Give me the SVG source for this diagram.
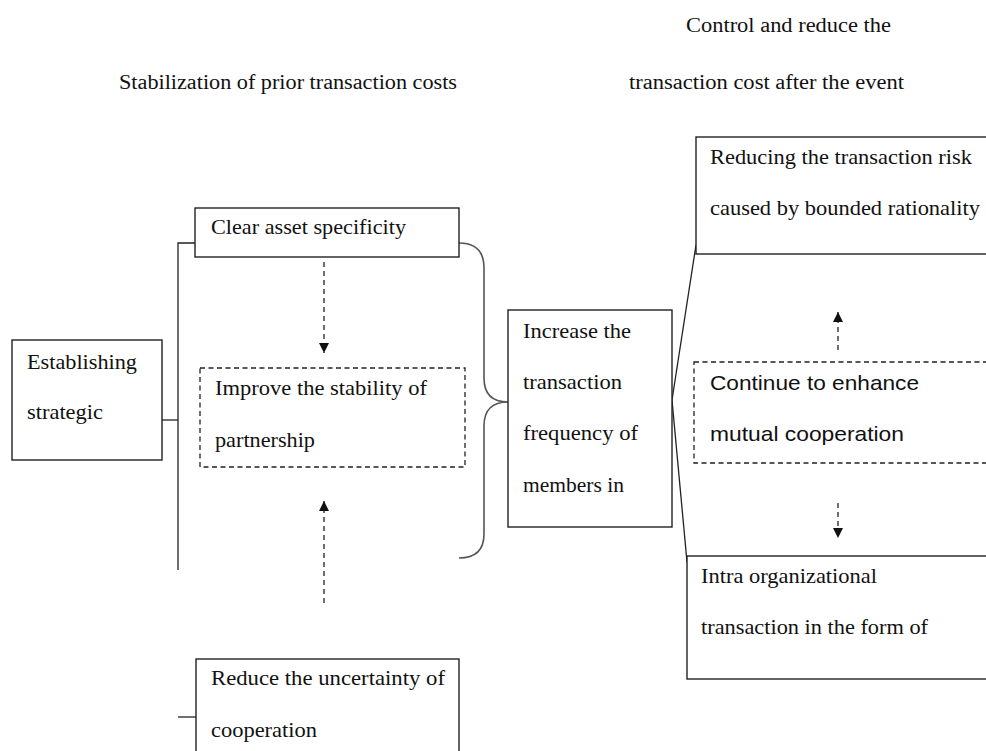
<svg xmlns="http://www.w3.org/2000/svg" width="986" height="751" viewBox="0 0 986 751">
<defs>
<style>
.box{fill:#fff;stroke:#222;stroke-width:1.4}
.dbox{fill:#fff;stroke:#222;stroke-width:1.3;stroke-dasharray:5,3.5}
.ln{fill:none;stroke:#222;stroke-width:1.3}
.br{fill:none;stroke:#555;stroke-width:1.6}
.da{fill:none;stroke:#222;stroke-width:1.3;stroke-dasharray:5,4}
.t{font-family:"Liberation Serif","Times New Roman",serif;font-size:21px;fill:#111}
.s{font-family:"Liberation Sans",Arial,sans-serif;font-size:21px;fill:#111}
.h{font-family:"Liberation Serif","Times New Roman",serif;font-size:20px;fill:#111}
</style>
<marker id="ah" viewBox="0 0 10 10" refX="10" refY="5" markerWidth="10" markerHeight="10" markerUnits="userSpaceOnUse" orient="auto">
<path d="M0,0 L10,5 L0,10 Z" fill="#111"/>
</marker>
</defs>
<rect width="986" height="751" fill="#fff"/>

<g id="titles">
<text class="h" x="686" y="32" textLength="205" lengthAdjust="spacingAndGlyphs">Control and reduce the</text>
<text class="h" x="119" y="89" textLength="338" lengthAdjust="spacingAndGlyphs">Stabilization of prior transaction costs</text>
<text class="h" x="629" y="89" textLength="275" lengthAdjust="spacingAndGlyphs">transaction cost after the event</text>
</g>

<g id="connectors">
<path class="ln" d="M178,570 L178,243 L195,243"/>
<path class="ln" d="M162,420 L178,420"/>
<path class="ln" d="M178,717 L196,717"/>
<path class="br" d="M459,243 Q484,243 484,268 L484,378 Q484,402 508,402 Q484,402 484,426 L484,534 Q484,558 459,558"/>
<path class="ln" d="M672,400 L696,245"/>
<path class="ln" d="M672,400 L687,562"/>
<line class="da" x1="324" y1="262" x2="324" y2="353" marker-end="url(#ah)"/>
<line class="da" x1="324" y1="603" x2="324" y2="501" marker-end="url(#ah)"/>
<line class="da" x1="838" y1="350" x2="838" y2="312" marker-end="url(#ah)"/>
<line class="da" x1="838" y1="503" x2="838" y2="538" marker-end="url(#ah)"/>
</g>

<g id="establishing">
<rect class="box" x="12" y="340" width="150" height="120"/>
<text class="t" x="27" y="369" textLength="110" lengthAdjust="spacingAndGlyphs">Establishing</text>
<text class="t" x="27" y="419" textLength="76" lengthAdjust="spacingAndGlyphs">strategic</text>
</g>

<g id="clear">
<rect class="box" x="195" y="208" width="264" height="49"/>
<text class="t" x="211" y="234" textLength="195" lengthAdjust="spacingAndGlyphs">Clear asset specificity</text>
</g>

<g id="improve">
<rect class="dbox" x="200" y="368" width="265" height="99"/>
<text class="t" x="215" y="395" textLength="212" lengthAdjust="spacingAndGlyphs">Improve the stability of</text>
<text class="t" x="215" y="447" textLength="100" lengthAdjust="spacingAndGlyphs">partnership</text>
</g>

<g id="reduce">
<rect class="box" x="196" y="659" width="263" height="100"/>
<text class="t" x="211" y="685" textLength="234" lengthAdjust="spacingAndGlyphs">Reduce the uncertainty of</text>
<text class="t" x="211" y="737" textLength="106" lengthAdjust="spacingAndGlyphs">cooperation</text>
</g>

<g id="increase">
<rect class="box" x="508" y="310" width="164" height="217"/>
<text class="t" x="523" y="338" textLength="108" lengthAdjust="spacingAndGlyphs">Increase the</text>
<text class="t" x="523" y="389" textLength="99" lengthAdjust="spacingAndGlyphs">transaction</text>
<text class="t" x="523" y="440" textLength="115" lengthAdjust="spacingAndGlyphs">frequency of</text>
<text class="t" x="523" y="492" textLength="101" lengthAdjust="spacingAndGlyphs">members in</text>
</g>

<g id="reducing">
<rect class="box" x="696" y="137" width="300" height="117"/>
<text class="t" x="710" y="164" textLength="262" lengthAdjust="spacingAndGlyphs">Reducing the transaction risk</text>
<text class="t" x="710" y="215" textLength="270" lengthAdjust="spacingAndGlyphs">caused by bounded rationality</text>
</g>

<g id="continue">
<rect class="dbox" x="694" y="362" width="300" height="101"/>
<text class="s" x="710" y="390" textLength="209" lengthAdjust="spacingAndGlyphs">Continue to enhance</text>
<text class="s" x="710" y="441" textLength="194" lengthAdjust="spacingAndGlyphs">mutual cooperation</text>
</g>

<g id="intra">
<rect class="box" x="687" y="556" width="310" height="123"/>
<text class="t" x="701" y="583" textLength="176" lengthAdjust="spacingAndGlyphs">Intra organizational</text>
<text class="t" x="701" y="634" textLength="227" lengthAdjust="spacingAndGlyphs">transaction in the form of</text>
</g>
</svg>
